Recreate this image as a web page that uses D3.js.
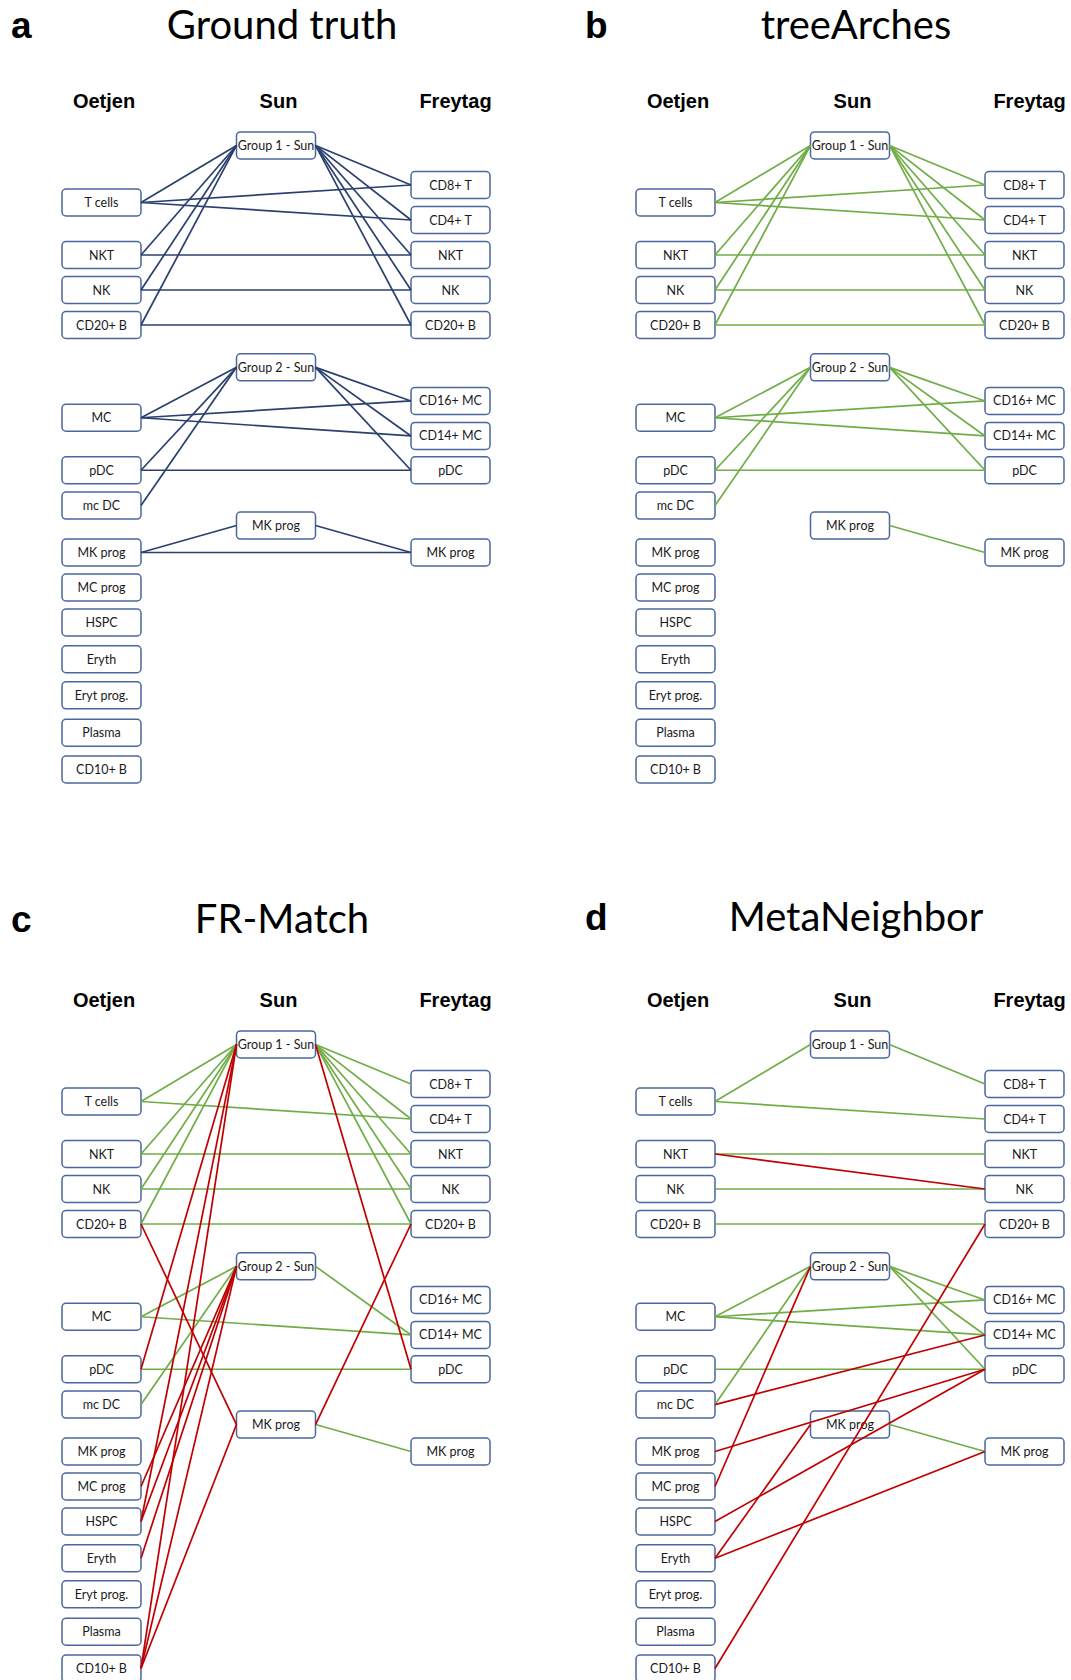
<!DOCTYPE html>
<html>
<head>
<meta charset="utf-8">
<script src="https://cdn.jsdelivr.net/npm/d3@7"></script>
<style>
  body { margin: 0; background: #ffffff; }
  svg { display: block; }
</style>
</head>
<body>
<svg id="chart" width="1071" height="1680"></svg>
<script>
// ---- data -------------------------------------------------------------
const datasets = ["Oetjen", "Sun", "Freytag"];
const oetjenTypes = ["T cells", "NKT", "NK", "CD20+ B", "MC", "pDC", "mc DC", "MK prog",
                     "MC prog", "HSPC", "Eryth", "Eryt prog.", "Plasma", "CD10+ B"];
const sunGroups = ["Group 1 - Sun", "Group 2 - Sun", "MK prog"];
const freytagTypes = ["CD8+ T", "CD4+ T", "NKT", "NK", "CD20+ B", "CD16+ MC", "CD14+ MC", "pDC", "MK prog"];
const panelLetters = ["a", "b", "c", "d"];
const methodNames = ["Ground truth", "treeArches", "FR-Match", "MetaNeighbor"];

// Links as "dataset:type" pairs. O = Oetjen, S = Sun, F = Freytag.
const groundTruthLinks = [
  ["O:T cells", "S:Group 1 - Sun"], ["O:NKT", "S:Group 1 - Sun"], ["O:NK", "S:Group 1 - Sun"], ["O:CD20+ B", "S:Group 1 - Sun"],
  ["S:Group 1 - Sun", "F:CD8+ T"], ["S:Group 1 - Sun", "F:CD4+ T"], ["S:Group 1 - Sun", "F:NKT"], ["S:Group 1 - Sun", "F:NK"], ["S:Group 1 - Sun", "F:CD20+ B"],
  ["O:T cells", "F:CD8+ T"], ["O:T cells", "F:CD4+ T"], ["O:NKT", "F:NKT"], ["O:NK", "F:NK"], ["O:CD20+ B", "F:CD20+ B"],
  ["O:MC", "S:Group 2 - Sun"], ["O:pDC", "S:Group 2 - Sun"], ["O:mc DC", "S:Group 2 - Sun"],
  ["S:Group 2 - Sun", "F:CD16+ MC"], ["S:Group 2 - Sun", "F:CD14+ MC"], ["S:Group 2 - Sun", "F:pDC"],
  ["O:MC", "F:CD16+ MC"], ["O:MC", "F:CD14+ MC"], ["O:pDC", "F:pDC"],
  ["O:MK prog", "S:MK prog"], ["S:MK prog", "F:MK prog"], ["O:MK prog", "F:MK prog"]
];

const treeArchesCorrect = [
  ["O:T cells", "S:Group 1 - Sun"], ["O:NKT", "S:Group 1 - Sun"], ["O:NK", "S:Group 1 - Sun"], ["O:CD20+ B", "S:Group 1 - Sun"],
  ["S:Group 1 - Sun", "F:CD8+ T"], ["S:Group 1 - Sun", "F:CD4+ T"], ["S:Group 1 - Sun", "F:NKT"], ["S:Group 1 - Sun", "F:NK"], ["S:Group 1 - Sun", "F:CD20+ B"],
  ["O:T cells", "F:CD8+ T"], ["O:T cells", "F:CD4+ T"], ["O:NKT", "F:NKT"], ["O:NK", "F:NK"], ["O:CD20+ B", "F:CD20+ B"],
  ["O:MC", "S:Group 2 - Sun"], ["O:pDC", "S:Group 2 - Sun"], ["O:mc DC", "S:Group 2 - Sun"],
  ["S:Group 2 - Sun", "F:CD16+ MC"], ["S:Group 2 - Sun", "F:CD14+ MC"], ["S:Group 2 - Sun", "F:pDC"],
  ["O:MC", "F:CD16+ MC"], ["O:MC", "F:CD14+ MC"], ["O:pDC", "F:pDC"],
  ["S:MK prog", "F:MK prog"]
];
const treeArchesWrong = [];

const frMatchCorrect = [
  ["O:T cells", "S:Group 1 - Sun"], ["O:NKT", "S:Group 1 - Sun"], ["O:NK", "S:Group 1 - Sun"], ["O:CD20+ B", "S:Group 1 - Sun"],
  ["S:Group 1 - Sun", "F:CD8+ T"], ["S:Group 1 - Sun", "F:CD4+ T"], ["S:Group 1 - Sun", "F:NKT"], ["S:Group 1 - Sun", "F:NK"], ["S:Group 1 - Sun", "F:CD20+ B"],
  ["O:T cells", "F:CD4+ T"], ["O:NKT", "F:NKT"], ["O:NK", "F:NK"], ["O:CD20+ B", "F:CD20+ B"],
  ["O:MC", "S:Group 2 - Sun"], ["O:mc DC", "S:Group 2 - Sun"],
  ["S:Group 2 - Sun", "F:CD14+ MC"],
  ["O:MC", "F:CD14+ MC"], ["O:pDC", "F:pDC"],
  ["S:MK prog", "F:MK prog"]
];
const frMatchWrong = [
  ["O:pDC", "S:Group 1 - Sun"], ["O:HSPC", "S:Group 1 - Sun"], ["O:CD10+ B", "S:Group 1 - Sun"],
  ["O:MC prog", "S:Group 2 - Sun"], ["O:HSPC", "S:Group 2 - Sun"], ["O:Eryth", "S:Group 2 - Sun"], ["O:CD10+ B", "S:Group 2 - Sun"],
  ["O:CD20+ B", "S:MK prog"], ["O:CD10+ B", "S:MK prog"],
  ["S:Group 1 - Sun", "F:pDC"], ["S:MK prog", "F:CD20+ B"]
];

const metaNeighborCorrect = [
  ["O:T cells", "S:Group 1 - Sun"], ["S:Group 1 - Sun", "F:CD8+ T"],
  ["O:T cells", "F:CD4+ T"], ["O:NKT", "F:NKT"], ["O:NK", "F:NK"], ["O:CD20+ B", "F:CD20+ B"],
  ["O:MC", "S:Group 2 - Sun"], ["O:mc DC", "S:Group 2 - Sun"],
  ["S:Group 2 - Sun", "F:CD16+ MC"], ["S:Group 2 - Sun", "F:CD14+ MC"], ["S:Group 2 - Sun", "F:pDC"],
  ["O:MC", "F:CD16+ MC"], ["O:MC", "F:CD14+ MC"], ["O:pDC", "F:pDC"],
  ["S:MK prog", "F:MK prog"]
];
const metaNeighborWrong = [
  ["O:NKT", "F:NK"], ["O:MC prog", "S:Group 2 - Sun"], ["O:mc DC", "F:CD14+ MC"],
  ["O:MK prog", "F:pDC"], ["O:HSPC", "F:pDC"], ["O:Eryth", "S:MK prog"], ["O:Eryth", "F:MK prog"],
  ["O:CD10+ B", "F:CD20+ B"]
];

// ---- layout -----------------------------------------------------------
// Vertical slot of every box, in row units (one unit = one box pitch).
const rowSlots = {
  O: {"T cells": 0, "NKT": 1.5, "NK": 2.5, "CD20+ B": 3.5, "MC": 6.15, "pDC": 7.65, "mc DC": 8.66,
      "MK prog": 10, "MC prog": 11, "HSPC": 12, "Eryth": 13.05, "Eryt prog.": 14.08, "Plasma": 15.15, "CD10+ B": 16.2},
  S: {"Group 1 - Sun": -1.63, "Group 2 - Sun": 4.71, "MK prog": 9.23},
  F: {"CD8+ T": -0.5, "CD4+ T": 0.5, "NKT": 1.5, "NK": 2.5, "CD20+ B": 3.5,
      "CD16+ MC": 5.67, "CD14+ MC": 6.67, "pDC": 7.65, "MK prog": 10}
};
const colKey = {O: "Oetjen", S: "Sun", F: "Freytag"};
const columnTypes = {O: oetjenTypes, S: sunGroups, F: freytagTypes};

const panels = [
  {letter: panelLetters[0], title: methodNames[0], origin: [0, 0],   titleDy: 0,  sets: [[groundTruthLinks, "truth"]]},
  {letter: panelLetters[1], title: methodNames[1], origin: [574, 0], titleDy: 0,  sets: [[treeArchesCorrect, "correct"], [treeArchesWrong, "wrong"]]},
  {letter: panelLetters[2], title: methodNames[2], origin: [0, 899], titleDy: -5, sets: [[frMatchCorrect, "correct"], [frMatchWrong, "wrong"]]},
  {letter: panelLetters[3], title: methodNames[3], origin: [574, 899], titleDy: -7, sets: [[metaNeighborCorrect, "correct"], [metaNeighborWrong, "wrong"]]}
];

const linkColor = {truth: "#2b406f", correct: "#70ad47", wrong: "#c00000"};
const BOX_W = 79, BOX_H = 27;

const colX = d3.scalePoint().domain(datasets).range([101.5, 450.5]);
const rowY = d3.scaleLinear().domain([0, 1]).range([202.5, 237.5]);

const svg = d3.select("#chart");

function nodePos(id) {
  const [c, name] = [id.slice(0, 1), id.slice(2)];
  return {c, name, x: colX(colKey[c]), y: rowY(rowSlots[c][name])};
}

panels.forEach(p => {
  const g = svg.append("g").attr("transform", `translate(${p.origin[0]},${p.origin[1]})`);

  g.append("text")
    .attr("x", 11).attr("y", 38 + p.titleDy)
    .attr("font-family", "'Liberation Sans', Arial, sans-serif")
    .attr("font-weight", "bold").attr("font-size", 37)
    .attr("fill", "#000").text(p.letter);

  g.append("text")
    .attr("x", colX("Sun") + 6).attr("y", 39 + p.titleDy)
    .attr("text-anchor", "middle")
    .attr("font-family", "Lato, 'Open Sans', sans-serif")
    .attr("font-size", 40)
    .attr("fill", "#000").text(p.title);

  const headerShift = {Oetjen: 2.5, Sun: 2.5, Freytag: 5};
  g.selectAll("text.header").data(datasets).join("text")
    .attr("class", "header")
    .attr("x", d => colX(d) + headerShift[d]).attr("y", 108)
    .attr("text-anchor", "middle")
    .attr("font-family", "'Liberation Sans', Arial, sans-serif")
    .attr("font-weight", "bold").attr("font-size", 20)
    .attr("fill", "#000").text(d => d);

  // boxes
  const nodes = [];
  Object.keys(columnTypes).forEach(c => columnTypes[c].forEach(name => nodes.push(nodePos(c + ":" + name))));

  const box = g.selectAll("g.node").data(nodes).join("g")
    .attr("class", "node")
    .attr("transform", d => `translate(${d.x - BOX_W / 2},${d.y - BOX_H / 2})`);
  box.append("rect")
    .attr("width", BOX_W).attr("height", BOX_H).attr("rx", 4).attr("ry", 4)
    .attr("fill", "#fff").attr("stroke", "#4a67a0").attr("stroke-width", 1.5);
  box.append("text")
    .attr("x", BOX_W / 2).attr("y", BOX_H / 2 + 4.5)
    .attr("text-anchor", "middle")
    .attr("font-family", "Lato, 'Open Sans', sans-serif")
    .attr("font-size", 12.5).attr("fill", "#1a1a1a")
    .text(d => d.name);

  // links, drawn over the boxes
  const links = [];
  p.sets.forEach(([list, kind]) => list.forEach(([a, b]) => {
    let s = nodePos(a), t = nodePos(b);
    if (s.x > t.x) [s, t] = [t, s];
    links.push({x1: s.x + BOX_W / 2, y1: s.y, x2: t.x - BOX_W / 2, y2: t.y, kind});
  }));
  g.selectAll("line.link").data(links).join("line")
    .attr("class", "link")
    .attr("x1", d => d.x1).attr("y1", d => d.y1)
    .attr("x2", d => d.x2).attr("y2", d => d.y2)
    .attr("stroke", d => linkColor[d.kind])
    .attr("stroke-width", 1.7);
});
</script>
</body>
</html>
